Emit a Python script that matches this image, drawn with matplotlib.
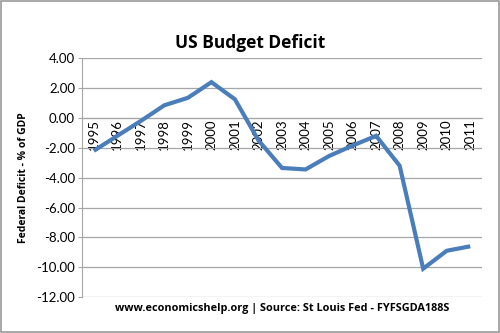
import numpy as np
import matplotlib
matplotlib.use("Agg")
import matplotlib.pyplot as plt
from matplotlib.patches import Rectangle

plt.rcParams["font.family"] = ["Lato", "DejaVu Sans"]
bold_font = ["Open Sans", "DejaVu Sans"]

years = ["1995", "1996", "1997", "1998", "1999", "2000", "2001", "2002", "2003",
         "2004", "2005", "2006", "2007", "2008", "2009", "2010", "2011"]
deficit = [-2.2, -1.2, -0.2, 0.85, 1.35, 2.4, 1.25, -1.5, -3.35,
           -3.45, -2.55, -1.85, -1.2, -3.2, -10.1, -8.9, -8.6]
yticks = [4, 2, 0, -2, -4, -6, -8, -10, -12]

fig = plt.figure(figsize=(5, 3.33), dpi=100)
ax = fig.add_axes([0.164, 0.108, 0.8, 0.717])

x = np.arange(len(years))
ax.plot(x, deficit, color="#4a7ebb", lw=3.0, solid_joinstyle="miter",
        solid_capstyle="butt", zorder=3)

ax.set_xlim(-0.5, len(years) - 0.5)
ax.set_ylim(-12, 4)
ax.set_yticks(yticks)
ax.set_yticklabels([f"{v:.2f}" for v in yticks], fontsize=9.5)
ax.grid(axis="y", color="#a6a6a6", lw=0.9, zorder=1)
ax.set_axisbelow(True)

for s in ["top", "right"]:
    ax.spines[s].set_visible(False)
ax.spines["left"].set_color("#a6a6a6")
ax.spines["bottom"].set_position(("data", 0))
ax.spines["bottom"].set_color("#a6a6a6")
ax.tick_params(axis="y", length=3, color="#a6a6a6", pad=2)
ax.tick_params(axis="x", length=0, pad=1)
ax.set_xticks(x)
ax.set_xticklabels(years, rotation=90, fontsize=9.5, va="top")

ax.set_ylabel("Federal Deficit - % of GDP", fontsize=7.5, fontweight="bold",
              family=bold_font, labelpad=5)

fig.text(0.5, 0.87, "US Budget Deficit", ha="center", va="center",
         fontsize=12.5, fontweight="bold", family=bold_font)
fig.text(0.564, 0.075, "www.economicshelp.org | Source: St Louis Fed - FYFSGDA188S",
         ha="center", va="center", fontsize=7.8, fontweight="bold", family=bold_font)

fig.patches.append(Rectangle((0.002, 0.003), 0.996, 0.994, transform=fig.transFigure,
                             fill=False, edgecolor="#9a9a9a", lw=1.2))

fig.savefig("out.png", dpi=100, facecolor="white")
